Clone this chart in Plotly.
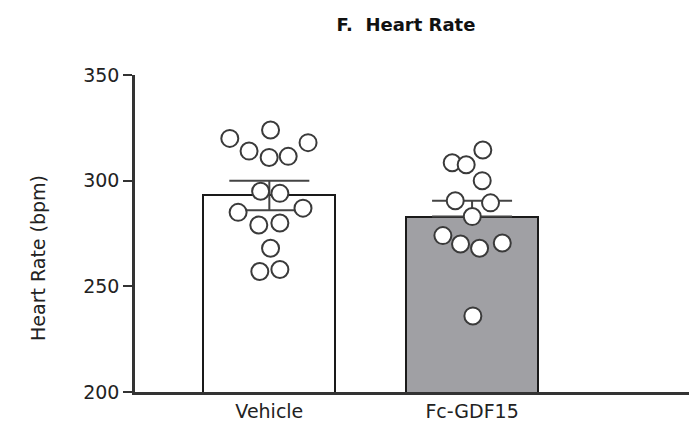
import plotly.graph_objects as go

# Group labels and summary values (bpm)
groups = ["Vehicle", "Fc-GDF15"]
group_mean = [293, 283]
group_sem = [7, 7.5]

# Individual animals (bpm) and their horizontal scatter offsets within each group
vehicle_hr = [320, 324, 318, 314, 311, 311.5, 295, 294, 285, 287, 279, 280, 268, 257, 258]
vehicle_offset = [-0.195, 0.006, 0.191, -0.1, -0.001, 0.093, -0.043, 0.052, -0.154, 0.166,
                  -0.052, 0.052, 0.006, -0.047, 0.052]
gdf15_hr = [314.5, 308.5, 307.5, 300, 290.5, 289.5, 283, 274, 270, 268, 270.5, 236]
gdf15_offset = [0.053, -0.098, -0.029, 0.05, -0.083, 0.091, 0.001, -0.144, -0.057, 0.037,
                0.149, 0.004]

y_ticks = [200, 250, 300, 350]

FONT = "DejaVu Sans"
AXIS_COLOR = "#333333"
TEXT_SIZE = 19

fig = go.Figure()

fig.add_trace(go.Bar(
    x=[0, 1],
    y=group_mean,
    base=0,
    width=0.65,
    marker=dict(color=["#ffffff", "#a0a0a4"], line=dict(color="#1a1a1a", width=2)),
    error_y=dict(
        type="data",
        symmetric=False,
        array=group_sem,
        # lower whisker of the filled bar sits inside the fill and is not drawn
        arrayminus=[group_sem[0], 0],
        color="#444444",
        thickness=2,
        width=40,
    ),
    showlegend=False,
))

point_style = dict(
    mode="markers",
    marker=dict(size=17, color="#ffffff", line=dict(color="#3a3a3a", width=2)),
    showlegend=False,
)
fig.add_trace(go.Scatter(x=[0 + d for d in vehicle_offset], y=vehicle_hr, **point_style))
fig.add_trace(go.Scatter(x=[1 + d for d in gdf15_offset], y=gdf15_hr, **point_style))

fig.update_layout(
    width=696,
    height=436,
    margin=dict(l=135, r=7, t=75, b=44),
    paper_bgcolor="white",
    plot_bgcolor="white",
    font=dict(family=FONT, size=TEXT_SIZE, color="#222222"),
    title=dict(
        text="<b>F.  Heart Rate</b>",
        font=dict(family=FONT, size=18, color="#111111"),
        x=0.489, xref="paper", xanchor="center",
        y=1 - 25 / 436, yref="container", yanchor="middle",
    ),
    bargap=0,
)

fig.update_xaxes(
    range=[-0.6626, 2.07],
    tickvals=[0, 1],
    ticktext=groups,
    ticks="",
    showline=True,
    linecolor=AXIS_COLOR,
    linewidth=2.5,
    showgrid=False,
    zeroline=False,
    tickfont=dict(size=TEXT_SIZE),
)
fig.update_yaxes(
    range=[200, 350],
    tickvals=y_ticks,
    ticks="outside",
    ticklen=9,
    tickwidth=2,
    tickcolor=AXIS_COLOR,
    showline=True,
    linecolor=AXIS_COLOR,
    linewidth=2.5,
    showgrid=False,
    zeroline=False,
    tickfont=dict(size=TEXT_SIZE),
)

fig.add_annotation(
    text="Heart Rate (bpm)",
    textangle=-90,
    xref="paper", yref="paper",
    x=-0.175, y=0.423,
    xanchor="center", yanchor="middle",
    showarrow=False,
    font=dict(family=FONT, size=TEXT_SIZE, color="#222222"),
)

fig.write_html("out.html")
